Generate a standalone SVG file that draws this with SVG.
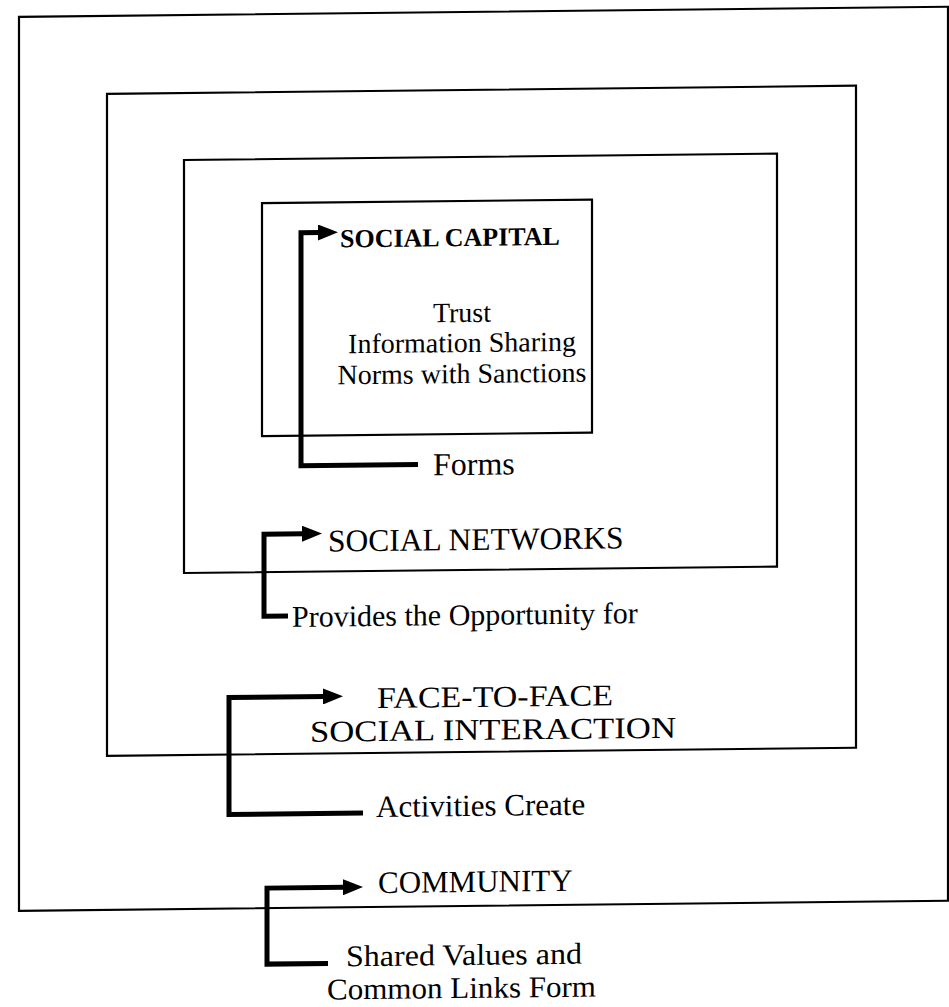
<svg xmlns="http://www.w3.org/2000/svg" width="949" height="1007" viewBox="0 0 949 1007">
  <style>
    .frame { fill: none; stroke: #000; stroke-width: 2.2; }
    .link { fill: none; stroke: #000; stroke-width: 5; stroke-linejoin: miter; stroke-linecap: butt; }
    .lbl { font-family: "Liberation Serif", "Times New Roman", serif; font-size: 31px; fill: #000; }
    .title { font-family: "Liberation Serif", "Times New Roman", serif; font-size: 26px; font-weight: bold; fill: #000; }
    .list { font-size: 28px; }
    .big { font-size: 30px; }
    .mid { text-anchor: middle; }
  </style>
  <defs>
    <marker id="head" markerUnits="userSpaceOnUse" markerWidth="20" markerHeight="16" refX="2" refY="8" orient="auto">
      <path d="M0,0 L20,8 L0,16 z" fill="#000"/>
    </marker>
  </defs>
  <rect width="949" height="1007" fill="#fff"/>
  <!-- whole sheet sits on a slight slant -->
  <g transform="skewY(-0.62)">
    <g id="community">
      <rect class="frame" x="19" y="17" width="929" height="894"/>
      <text class="lbl" x="378" y="897">COMMUNITY</text>
    </g>
    <g id="face-to-face">
      <rect class="frame" x="107" y="95" width="749" height="662"/>
      <text class="lbl big" x="377" y="712" textLength="236" lengthAdjust="spacingAndGlyphs">FACE-TO-FACE</text>
      <text class="lbl big" x="310" y="745" textLength="366" lengthAdjust="spacingAndGlyphs">SOCIAL INTERACTION</text>
    </g>
    <g id="social-networks">
      <rect class="frame" x="184" y="162" width="593" height="413"/>
      <text class="lbl" x="328" y="555" style="font-size:31.5px">SOCIAL NETWORKS</text>
    </g>
    <g id="social-capital">
      <rect class="frame" x="262" y="206" width="330" height="233"/>
      <text class="title" x="340" y="251">SOCIAL CAPITAL</text>
      <text class="lbl list mid" x="462" y="327">Trust</text>
      <text class="lbl list mid" x="462" y="357">Information Sharing</text>
      <text class="lbl list mid" x="462" y="388">Norms with Sanctions</text>
    </g>
    <g id="connector-labels">
      <text class="lbl" x="433" y="480" style="font-size:32px">Forms</text>
      <text class="lbl" x="292" y="630" style="font-size:30px">Provides the Opportunity for</text>
      <text class="lbl" x="376" y="821">Activities Create</text>
      <text class="lbl" x="346" y="970" style="font-size:30px" textLength="236" lengthAdjust="spacingAndGlyphs">Shared Values and</text>
      <text class="lbl" x="327" y="1003" style="font-size:30px" textLength="269" lengthAdjust="spacingAndGlyphs">Common Links Form</text>
    </g>
    <g id="connectors">
      <path class="link" d="M418,469 H301 V236 H320" marker-end="url(#head)"/>
      <path class="link" d="M288,619 H264 V537 H304" marker-end="url(#head)"/>
      <path class="link" d="M363,817 H229 V700 H325" marker-end="url(#head)"/>
      <path class="link" d="M328,967 H267 V891 H345" marker-end="url(#head)"/>
    </g>
  </g>
</svg>
